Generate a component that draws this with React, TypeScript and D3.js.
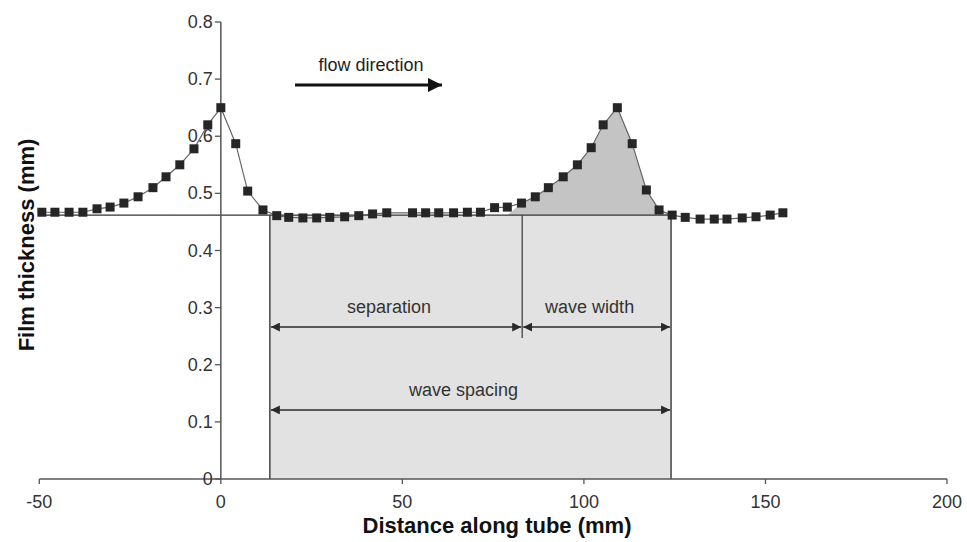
import { useEffect, useRef } from 'react';
import * as d3 from 'd3';

// film thickness trace
const distance = [
  -49.3, -45.7, -41.8, -38.0, -34.1, -30.5, -26.7, -22.8, -18.7, -15.1, -11.3, -7.4, -3.6, 0,
  4.1, 7.4, 11.6, 15.4, 18.7, 22.6, 26.4, 30.0, 34.1, 38.0, 41.8, 45.7,
  52.8, 56.4, 60.0, 64.1, 67.9, 71.5, 75.4, 78.9, 82.8, 86.6, 90.2, 94.3, 98.2, 102.0,
  105.3, 109.2, 113.3, 117.2, 120.7, 124.3, 127.9, 132.0, 135.9, 139.4, 143.6, 147.4, 151.3, 154.8,
];
const thickness = [
  0.467, 0.467, 0.467, 0.467, 0.473, 0.476, 0.483, 0.494, 0.510, 0.529, 0.550, 0.578, 0.620, 0.650,
  0.587, 0.504, 0.471, 0.461, 0.458, 0.457, 0.457, 0.458, 0.459, 0.461, 0.464, 0.466,
  0.466, 0.466, 0.466, 0.466, 0.467, 0.467, 0.475, 0.476, 0.483, 0.494, 0.510, 0.529, 0.550, 0.580,
  0.620, 0.650, 0.587, 0.506, 0.471, 0.462, 0.458, 0.455, 0.455, 0.455, 0.457, 0.459, 0.462, 0.466,
];

const xTicks = [-50, 0, 50, 100, 150, 200];
const yTicks = [0, 0.1, 0.2, 0.3, 0.4, 0.5, 0.6, 0.7, 0.8];

// annotation geometry (data units)
const baseLevel = 0.462;
const waveStart = 13.5;
const waveFront = 83;
const waveEnd = 124;
const separationLevel = 0.266;
const spacingLevel = 0.121;

const FONT = '"Liberation Sans", Arial, Helvetica, sans-serif';

export default function App() {
  const svgRef = useRef<SVGSVGElement>(null);
  const width = 967;
  const height = 542;

  useEffect(() => {
    if (!svgRef.current) return;
    const svg = d3.select(svgRef.current);
    svg.selectAll('*').remove();

    const x = d3.scaleLinear().domain([-50, 200]).range([39.3, 947]);
    const y = d3.scaleLinear().domain([0, 0.8]).range([479, 22]);

    const pts = distance.map((d, i) => ({ d, t: thickness[i] }));

    const defs = svg.append('defs');
    const mk = (id: string, color: string, w: number, h: number) => {
      defs.append('marker')
        .attr('id', id)
        .attr('viewBox', '0 0 10 10')
        .attr('refX', 10)
        .attr('refY', 5)
        .attr('markerUnits', 'userSpaceOnUse')
        .attr('markerWidth', w)
        .attr('markerHeight', h)
        .attr('orient', 'auto-start-reverse')
        .append('path')
        .attr('d', 'M0,0 L10,5 L0,10 Z')
        .attr('fill', color);
    };
    mk('head', '#2a2a2a', 9, 9);
    mk('flow', '#111', 15, 14);

    svg.append('rect').attr('width', width).attr('height', height).attr('fill', '#ffffff');

    // light box: wave spacing region
    svg.append('rect')
      .attr('x', x(waveStart))
      .attr('y', y(baseLevel))
      .attr('width', x(waveEnd) - x(waveStart))
      .attr('height', y(0) - y(baseLevel))
      .attr('fill', '#e2e2e2');

    // darker fill under the wave
    const wavePts = pts.filter(p => p.d >= waveFront - 4 && p.d <= waveEnd);
    const area = d3.area<{ d: number; t: number }>()
      .x(p => x(p.d))
      .y0(y(baseLevel))
      .y1(p => y(Math.max(p.t, baseLevel)));
    svg.append('path')
      .attr('d', area([{ d: waveFront - 4, t: baseLevel }, ...wavePts, { d: waveEnd, t: baseLevel }]))
      .attr('fill', '#c4c4c4');

    // baseline film level
    svg.append('line')
      .attr('x1', x(distance[0])).attr('x2', x(waveEnd))
      .attr('y1', y(baseLevel)).attr('y2', y(baseLevel))
      .attr('stroke', '#333').attr('stroke-width', 1.3);

    // box borders
    [waveStart, waveEnd].forEach(v => {
      svg.append('line')
        .attr('x1', x(v)).attr('x2', x(v))
        .attr('y1', y(baseLevel)).attr('y2', y(0))
        .attr('stroke', '#444').attr('stroke-width', 1.5);
    });
    svg.append('line')
      .attr('x1', x(waveFront)).attr('x2', x(waveFront))
      .attr('y1', y(baseLevel)).attr('y2', y(separationLevel) + 11)
      .attr('stroke', '#444').attr('stroke-width', 1.3);

    // axes
    const axisColor = '#555';
    svg.append('line')
      .attr('x1', x(-50)).attr('x2', x(200))
      .attr('y1', y(0)).attr('y2', y(0))
      .attr('stroke', axisColor).attr('stroke-width', 1.5);
    svg.selectAll('.xtick')
      .data(xTicks)
      .enter()
      .append('line')
      .attr('x1', d => x(d)).attr('x2', d => x(d))
      .attr('y1', y(0)).attr('y2', y(0) + 5)
      .attr('stroke', axisColor).attr('stroke-width', 1.3);
    svg.selectAll('.xlabel')
      .data(xTicks)
      .enter()
      .append('text')
      .attr('x', d => x(d))
      .attr('y', y(0) + 29)
      .attr('text-anchor', 'middle')
      .attr('font-size', '18px')
      .attr('fill', '#333')
      .style('font-family', FONT)
      .text(d => String(d));

    svg.append('line')
      .attr('x1', x(0)).attr('x2', x(0))
      .attr('y1', y(0)).attr('y2', y(0.8))
      .attr('stroke', axisColor).attr('stroke-width', 1.5);
    svg.selectAll('.ytick')
      .data(yTicks)
      .enter()
      .append('line')
      .attr('x1', x(0) - 6).attr('x2', x(0))
      .attr('y1', d => y(d)).attr('y2', d => y(d))
      .attr('stroke', axisColor).attr('stroke-width', 1.3);
    svg.selectAll('.ylabel')
      .data(yTicks)
      .enter()
      .append('text')
      .attr('x', x(0) - 8)
      .attr('y', d => y(d) + 6)
      .attr('text-anchor', 'end')
      .attr('font-size', '18px')
      .attr('fill', '#333')
      .style('font-family', FONT)
      .text(d => (d === 0 ? '0' : d.toFixed(1)));

    // trace
    const line = d3.line<{ d: number; t: number }>().x(p => x(p.d)).y(p => y(p.t));
    svg.append('path')
      .attr('d', line(pts))
      .attr('fill', 'none')
      .attr('stroke', '#666')
      .attr('stroke-width', 1.2);
    svg.selectAll('.pt')
      .data(pts)
      .enter()
      .append('rect')
      .attr('x', p => x(p.d) - 4.5)
      .attr('y', p => y(p.t) - 4.5)
      .attr('width', 9)
      .attr('height', 9)
      .attr('fill', '#262626');

    // dimension arrows
    const dim = (a: number, b: number, level: number, label: string) => {
      svg.append('line')
        .attr('x1', x(a) + 1).attr('x2', x(b) - 1)
        .attr('y1', y(level)).attr('y2', y(level))
        .attr('stroke', '#2a2a2a').attr('stroke-width', 1.5)
        .attr('marker-start', 'url(#head)')
        .attr('marker-end', 'url(#head)');
      svg.append('text')
        .attr('x', (x(a) + x(b)) / 2 - 7)
        .attr('y', y(level) - 14)
        .attr('text-anchor', 'middle')
        .attr('font-size', '18px')
        .attr('fill', '#333')
        .style('font-family', FONT)
        .text(label);
    };
    dim(waveStart, waveFront, separationLevel, 'separation');
    dim(waveFront, waveEnd, separationLevel, 'wave width');
    dim(waveStart, waveEnd, spacingLevel, 'wave spacing');

    // flow direction
    svg.append('line')
      .attr('x1', 295).attr('x2', 442)
      .attr('y1', 85).attr('y2', 85)
      .attr('stroke', '#111').attr('stroke-width', 3)
      .attr('marker-end', 'url(#flow)');
    svg.append('text')
      .attr('x', 371)
      .attr('y', 71)
      .attr('text-anchor', 'middle')
      .attr('font-size', '18px')
      .attr('fill', '#222')
      .style('font-family', FONT)
      .text('flow direction');

    // axis titles
    svg.append('text')
      .attr('x', 497)
      .attr('y', 533)
      .attr('text-anchor', 'middle')
      .attr('font-size', '22px')
      .attr('font-weight', '700')
      .attr('fill', '#111')
      .style('font-family', FONT)
      .text('Distance along tube (mm)');
    svg.append('text')
      .attr('transform', 'translate(34, 245) rotate(-90)')
      .attr('text-anchor', 'middle')
      .attr('font-size', '22px')
      .attr('font-weight', '700')
      .attr('fill', '#111')
      .style('font-family', FONT)
      .text('Film thickness (mm)');
  }, []);

  return (
    <svg
      ref={svgRef}
      width={width}
      height={height}
      style={{ position: 'absolute', left: 0, top: 0 }}
    />
  );
}
